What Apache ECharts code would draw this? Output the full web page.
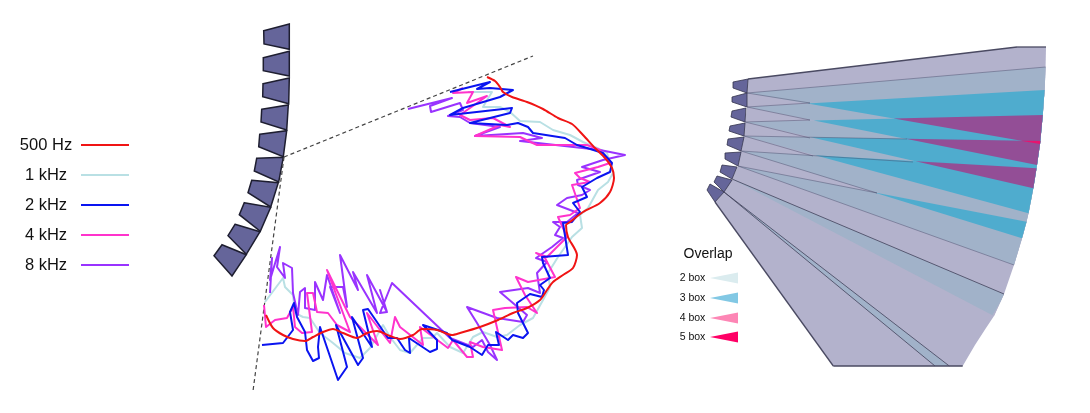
<!DOCTYPE html>
<html>
<head>
<meta charset="utf-8">
<style>html,body{margin:0;padding:0;background:#fff}#chart{width:1090px;height:413px}</style>
<script src="https://cdn.jsdelivr.net/npm/echarts@6/dist/echarts.min.js"></script>
</head>
<body>
<div id="chart"></div>
<script>
// Coverage contours per frequency, [x, y] in plot units.
const curve500 = [[266,315],[273,328],[283,335],[293,339],[305,341],[313,337],[323,332],[333,329],[343,333],[357,338],[367,333],[377,331],[390,336],[400,339],[413,335],[422,329],[437,330],[452,335],[460,333],[480,327],[498,320],[513,313],[527,308],[540,300],[547,290],[553,282],[563,275],[573,268],[577,255],[568,237],[566,225],[570,222],[583,212],[600,203],[610,192],[614,178],[612,168],[605,158],[595,148],[583,135],[572,124],[558,118],[543,109],[527,102],[512,97],[503,92],[500,87],[495,81],[487,77]];
const curve1k = [[265,302],[280,282],[283,278],[285,287],[293,295],[295,313],[303,317],[310,318],[320,333],[333,343],[345,353],[360,358],[370,348],[383,325],[390,337],[400,350],[410,353],[423,338],[432,338],[437,333],[450,347],[463,353],[473,337],[483,332],[497,337],[507,335],[520,325],[533,318],[543,300],[550,287],[548,273],[558,257],[572,237],[582,228],[580,215],[588,208],[598,190],[608,182],[613,173],[607,153],[597,148],[583,142],[570,135],[553,130],[540,122],[520,121],[510,112],[500,107],[483,107],[487,100],[492,92],[468,92]];
const curve2k = [[262,345],[283,343],[293,330],[290,312],[294,303],[297,317],[305,332],[307,350],[313,361],[319,358],[318,347],[320,327],[338,380],[347,367],[336,325],[358,365],[363,358],[352,317],[372,347],[363,310],[368,309],[388,338],[397,338],[405,350],[410,353],[409,338],[430,352],[437,349],[437,340],[423,325],[447,333],[452,340],[470,347],[482,355],[488,345],[499,345],[496,332],[508,340],[513,335],[523,338],[528,333],[518,313],[517,303],[530,294],[542,297],[544,290],[540,285],[550,278],[543,263],[542,257],[568,255],[563,223],[572,222],[580,212],[573,203],[587,197],[582,187],[597,178],[610,172],[612,163],[603,153],[587,148],[577,145],[565,138],[533,133],[528,127],[518,123],[507,125],[470,123],[510,113],[512,108],[450,115],[463,108],[500,97],[513,90],[490,88],[477,89],[490,82],[450,92]];
const curve4k = [[264,305],[266,327],[275,320],[287,318],[293,307],[295,327],[302,333],[312,332],[307,293],[313,293],[317,312],[328,313],[337,325],[350,332],[327,270],[350,317],[378,345],[367,313],[390,343],[395,317],[400,327],[423,345],[420,327],[448,348],[453,340],[467,357],[473,357],[470,342],[483,347],[502,350],[493,310],[505,308],[527,307],[537,313],[525,295],[516,277],[528,282],[555,277],[545,258],[536,253],[547,257],[567,237],[558,217],[570,215],[580,208],[572,185],[590,182],[580,178],[575,173],[598,167],[610,163],[600,150],[587,145],[537,145],[520,137],[475,136],[500,125],[510,127],[493,118],[470,120],[460,115],[487,96],[467,103],[473,92],[453,93],[463,88]];
const curve8k = [[270,293],[272,258],[270,280],[280,247],[277,267],[285,278],[283,263],[292,268],[293,293],[298,315],[300,292],[305,288],[305,308],[315,310],[315,282],[323,300],[327,275],[340,313],[330,287],[343,287],[347,307],[340,255],[358,290],[353,272],[377,313],[367,275],[387,312],[380,290],[387,312],[380,313],[392,283],[450,338],[473,347],[482,340],[488,352],[497,360],[490,345],[477,323],[467,307],[497,318],[523,322],[527,315],[500,292],[528,288],[540,293],[537,273],[547,262],[536,258],[552,247],[563,238],[555,235],[560,227],[553,222],[567,222],[578,213],[557,205],[567,198],[582,195],[590,190],[578,185],[577,180],[600,172],[582,167],[603,160],[625,155],[600,150],[520,141],[542,138],[523,133],[475,136],[500,127],[470,123],[460,117],[448,116],[463,110],[460,103],[431,112],[430,106],[452,98],[408,109]];

// Sight lines from the array's aiming point.
const sightUpper = [[284,157],[533,56]];
const sightLower = [[284,157],[253,391]];

// Left-hand array cabinets.
const leftCabinets = [
  [[263.7,30.7],[289.3,24],[289.3,49.3],[264,44]],
  [[263.3,57.7],[289.3,51.3],[289.3,76],[263.3,70.7]],
  [[263,83.7],[289.3,78],[288.7,103.7],[262.7,96.7]],
  [[261.7,109.3],[288.3,105],[286.7,130],[261,122]],
  [[259.7,134.3],[286.7,130.7],[283.3,156.7],[258.7,146.7]],
  [[256.7,158.3],[283.3,157.3],[278.7,182],[254.3,171]],
  [[251.7,180.3],[278.3,182.7],[270.7,207],[248,192.7]],
  [[244.3,202.7],[270.7,207.3],[260.3,231.3],[239.3,214.7]],
  [[235,224.3],[260,231.7],[246.3,254.3],[228,235.7]],
  [[222,244.7],[246.3,254.7],[232,276],[214,255.7]]
];

// Right-hand array cabinets.
const rightCabinets = [
  [[733,82],[748,79],[747,93],[733,88]],
  [[732,97],[747,93],[747,107],[732,102]],
  [[732,111],[746,108],[745,122],[731,117]],
  [[730,126],[745,123],[744,136],[729,131]],
  [[728,139],[744,137],[741,151],[727,145]],
  [[725,153],[741,152],[738,166],[725,159]],
  [[722,165],[737,167],[732,179],[720,172]],
  [[717,176],[732,180],[724,192],[714,182]],
  [[710,184],[724,192],[715,202],[707,190]]
];

// Junctions along the front of the right array, and the far boundary of the fan.
const junctions = [[748,79],[747,93],[747,107],[745,122],[744,136],[741,151],[738,166],[732,179],[724,192],[715,202]];
const farEdge = [[1017,47],[1046,47],[1045.6,67],[1044.6,90],[1042.8,115],[1040.3,141],[1040,144],[1037,165],[1036.5,168.3],[1033.3,188.3],[1028.5,213.3],[1026.5,221.7],[1022,238.3],[1014,265],[1004,294],[994,316],[986,328],[975,345],[962.7,366],[949.3,366],[935,366],[833.3,366]];
// Each box covers: junction index, then first and last far-edge index.
const boxSpans = [[0,0,6],[1,2,7],[2,3,9],[3,4,10],[4,5,12],[5,8,13],[6,11,15],[7,14,20],[8,19,21]];
const overlapFill = ['#b3b2cc','#a1b2c9','#4facce','#934e96','#e8146e'];

// Beam edges that show as a thin line.
const outerEdges = [
  [[748,79],[1017,47]],[[1017,47],[1046,47]],
  [[715,202],[833.3,366]],[[833.3,366],[962.7,366]]
];
const strongEdges = [
  [[732,179],[1004,294]],[[724,192],[949.3,366]],[[724,192],[935,366]]
];
const softEdges = [
  [[747,93],[1045.6,67]],[[747,107],[810,103]],[[747,93],[810,103]],
  [[745,122],[810,120]],[[747,107],[810,120]],
  [[744,136],[907,139]],[[745,122],[810,138]],
  [[741,151],[913,162]],[[744,136],[813,156]],
  [[741,151],[877,193]],[[738,166],[877,193]],[[738,166],[1014,265]]
];

// Overlap key.
const overlapTitle = 'Overlap';
const overlapNames = ['2 box','3 box','4 box','5 box'];
const overlapKeyRows = [278,298,318,337];
const overlapKeyColors = ['#dbecef','#82c8e4','#fd86b5','#ff0066'];
const keyTipX = 710, keyBaseX = 738, keyHalf = 5.5, keyTextX = 692.5;

function signedArea(p){let a=0;for(let i=0;i<p.length;i++){const q=p[(i+1)%p.length];a+=p[i][0]*q[1]-q[0]*p[i][1];}return a;}
// Clips a polygon against a convex one.
function clipPolygon(subject, clip){
  const s = signedArea(clip) > 0 ? 1 : -1;
  let out = subject;
  for(let i=0;i<clip.length && out.length;i++){
    const a=clip[i], b=clip[(i+1)%clip.length];
    const side=p=>s*((b[0]-a[0])*(p[1]-a[1])-(b[1]-a[1])*(p[0]-a[0]));
    const input=out; out=[];
    for(let j=0;j<input.length;j++){
      const c=input[j], d=input[(j+1)%input.length], sc=side(c), sd=side(d);
      if(sc>=0) out.push(c);
      if((sc>=0)!==(sd>=0)){const t=sc/(sc-sd);out.push([c[0]+t*(d[0]-c[0]),c[1]+t*(d[1]-c[1])]);}
    }
  }
  return out;
}
const boxes = boxSpans.map(([j,from,to])=>[junctions[j],...farEdge.slice(from,to+1),junctions[j+1]]);
const fanShapes = [];
overlapFill.forEach((fill,level)=>{
  for(let i=0;i+level<boxes.length;i++){
    let poly=boxes[i];
    for(let k=1;k<=level && poly.length;k++) poly=clipPolygon(poly,boxes[i+k]);
    if(poly.length>2) fanShapes.push({points:poly,fill});
  }
});

const keyShapes = overlapKeyRows.map((y,i)=>({points:[[keyTipX,y],[keyBaseX,y-keyHalf],[keyBaseX,y+keyHalf]],fill:overlapKeyColors[i]}));

function polygonSeries(shapes, style){
  return {
    type:'custom',coordinateSystem:'cartesian2d',silent:true,animation:false,clip:false,
    data:shapes.map((_,i)=>[i,0]),
    renderItem(params,api){
      const s=shapes[params.dataIndex];
      return {type:'polygon',shape:{points:s.points.map(p=>api.coord(p))},
        style:Object.assign({fill:s.fill},style||{})};
    }
  };
}
function edgeSeries(edges, stroke, width){
  return {
    type:'custom',coordinateSystem:'cartesian2d',silent:true,animation:false,clip:false,
    data:edges.map((_,i)=>[i,0]),
    renderItem(params,api){
      const e=edges[params.dataIndex], a=api.coord(e[0]), b=api.coord(e[1]);
      return {type:'line',shape:{x1:a[0],y1:a[1],x2:b[0],y2:b[1]},style:{stroke,lineWidth:width,fill:null}};
    }
  };
}
function textSeries(items){
  return {
    type:'custom',coordinateSystem:'cartesian2d',silent:true,animation:false,clip:false,
    data:items.map((_,i)=>[i,0]),
    renderItem(params,api){
      const t=items[params.dataIndex], c=api.coord(t.at);
      return {type:'text',x:c[0],y:c[1],style:{text:t.text,fontSize:t.size,fontFamily:'Liberation Sans',fill:'#111',align:'center',verticalAlign:'middle'}};
    }
  };
}
function curveSeries(name,data,color,width,smooth){
  return {name,type:'line',data,showSymbol:false,silent:true,animation:false,clip:false,smooth:smooth||false,
    itemStyle:{color},lineStyle:{color,width,join:'round'}};
}
function sightSeries(data){
  return {type:'line',data,showSymbol:false,silent:true,animation:false,clip:false,
    lineStyle:{color:'#444',width:1.2,type:[4,3]}};
}

const keyTexts = [{text:overlapTitle,at:[708,254],size:14}].concat(overlapNames.map((t,i)=>({text:t,at:[keyTextX,overlapKeyRows[i]],size:10.5})));

const chart = echarts.init(document.getElementById('chart'),null,{renderer:'canvas'});
chart.setOption({
  backgroundColor:'#fff',
  animation:false,
  grid:{left:0,right:0,top:0,bottom:0},
  xAxis:{type:'value',min:0,max:1090,show:false},
  yAxis:{type:'value',min:0,max:413,inverse:true,show:false},
  legend:{
    data:['500 Hz','1 kHz','2 kHz','4 kHz','8 kHz'],
    orient:'vertical',align:'right',left:11,top:130,
    icon:'rect',itemWidth:48,itemHeight:2,itemGap:10,selectedMode:false,
    formatter:n=>'{t|'+n+'}',
    textStyle:{rich:{t:{width:60,height:20,lineHeight:20,align:'center',fontSize:16.5,fontFamily:'Liberation Sans',color:'#111'}}}
  },
  series:[
    sightSeries(sightUpper),sightSeries(sightLower),
    polygonSeries(leftCabinets.map(points=>({points})),{fill:'#65659a',stroke:'#1e1e30',lineWidth:1.5}),
    curveSeries('1 kHz',curve1k,'#b9e0e4',2),
    curveSeries('8 kHz',curve8k,'#9933ff',2),
    curveSeries('4 kHz',curve4k,'#ff33cc',2),
    curveSeries('2 kHz',curve2k,'#0a14f0',2),
    curveSeries('500 Hz',curve500,'#f01414',2,0.25),
    polygonSeries(fanShapes),
    edgeSeries(softEdges,'rgba(70,70,100,0.55)',0.8),
    edgeSeries(strongEdges,'rgba(60,60,85,0.85)',0.9),
    edgeSeries(outerEdges,'#4a4a62',1.3),
    polygonSeries(rightCabinets.map(points=>({points})),{fill:'#65659a',stroke:'#33334d',lineWidth:0.8}),
    polygonSeries(keyShapes),
    textSeries(keyTexts)
  ]
});
</script>
</body>
</html>
